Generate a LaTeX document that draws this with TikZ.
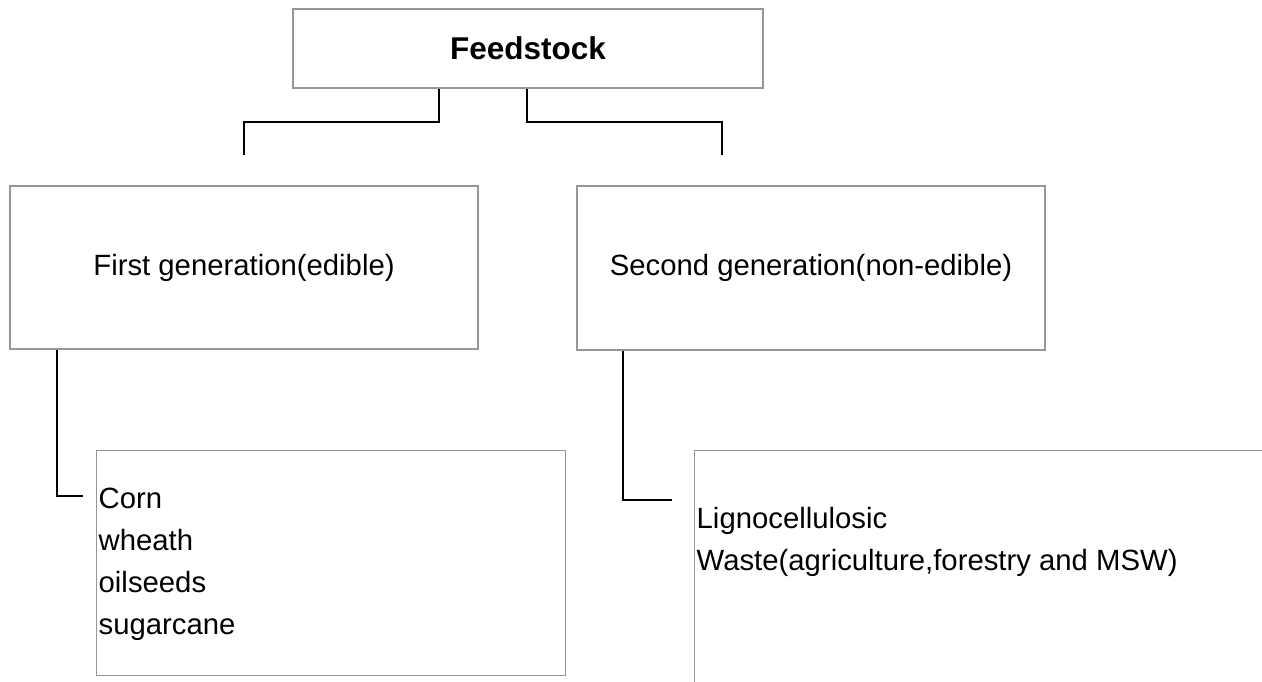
\documentclass[tikz,border=0pt]{standalone}
\usepackage{fontspec}
\setmainfont{Liberation Sans}
\usepackage{xcolor}
\usepackage{tikz}
\definecolor{boxgray}{RGB}{150,150,150}

\tikzset{
    box/.style={draw=boxgray, line width=1.3pt, rectangle, inner sep=0pt,
        font=\fontsize{29.3}{35}\selectfont},
    link/.style={draw=black, line width=2pt},
    item/.style={inner sep=0pt, anchor=base west, font=\fontsize{29.3}{35}\selectfont}
}

\begin{document}
\begin{tikzpicture}[x=1pt, y=-1pt]
    % Rahmen
    \path[use as bounding box, clip] (0,0) rectangle (1262,682);

    % Kästen
    \node[box, minimum width=470pt, minimum height=79pt,
        font=\fontsize{31.5}{38}\selectfont\bfseries] (feed) at (528,48.5) {Feedstock};
    \node[box, minimum width=468pt, minimum height=163pt] (gen1) at (244,267.5) {First generation(edible)};
    \node[box, minimum width=468pt, minimum height=164pt] (gen2) at (811,268) {Second generation(non-edible)};
    \node[box, minimum width=469pt, minimum height=225pt, anchor=north west] (crops) at (96,450) {};
    \node[box, minimum width=620pt, minimum height=280pt, anchor=north west] (waste) at (694,450) {};

    % Texte
    \foreach \txt [count=\i] in {Corn, wheath, oilseeds, sugarcane}
        \node[item] (crop\i) at (98.5,{508+42*(\i-1)}) {\txt};
    \node[item] (ligno) at (696.5,528) {Lignocellulosic};
    \node[item] (wastetxt) at (696.5,570) {Waste(agriculture,forestry and MSW)};

    % Verbindungen
    \coordinate (forkL) at (439,122);
    \coordinate (forkR) at (527,122);
    \coordinate (endL) at (244,155);
    \coordinate (endR) at (722,155);
    \draw[link] (feed.south -| forkL) -- (forkL) -| (endL);
    \draw[link] (feed.south -| forkR) -- (forkR) -| (endR);

    \coordinate (bendL) at (57,496);
    \coordinate (cropsin) at (83,496);
    \draw[link] (gen1.south -| bendL) -- (bendL) -- (cropsin);

    \coordinate (bendR) at (623,500);
    \coordinate (wastein) at (672,500);
    \draw[link] (gen2.south -| bendR) -- (bendR) -- (wastein);
\end{tikzpicture}
\end{document}
